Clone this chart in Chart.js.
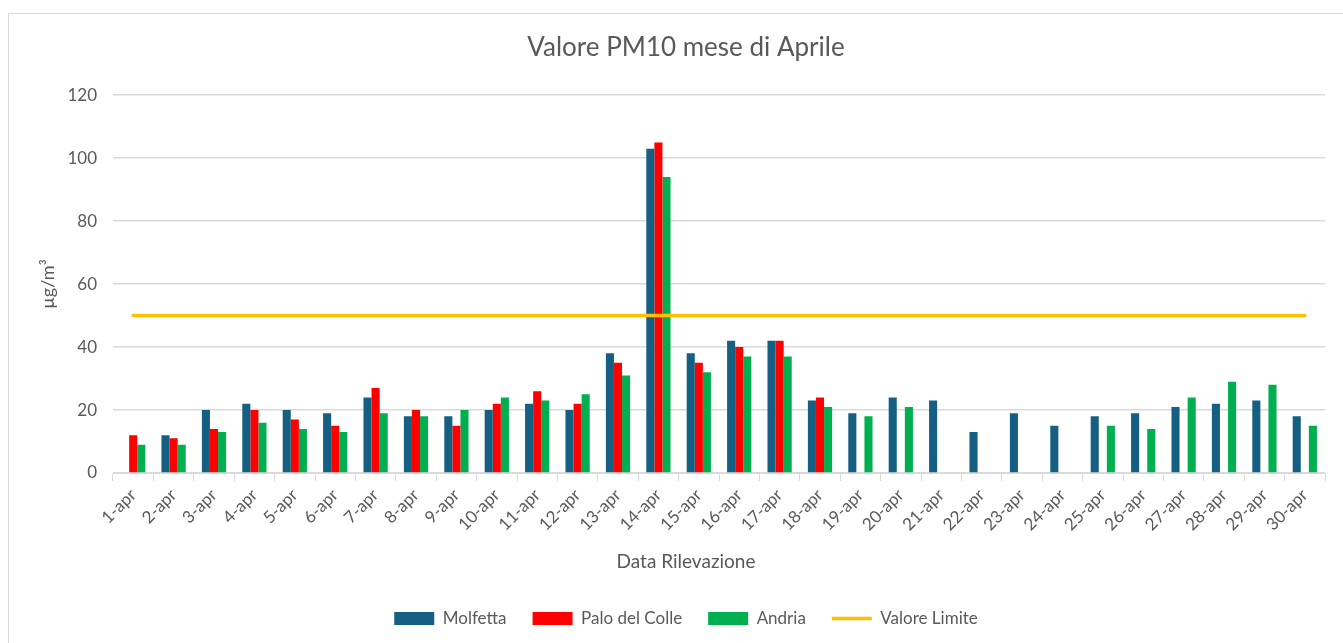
<!DOCTYPE html>
<html>
<head>
<meta charset="utf-8">
<script src="https://cdn.jsdelivr.net/npm/chart.js@4.4.1/dist/chart.umd.min.js"></script>
<style>
  html, body { margin: 0; padding: 0; background: #ffffff; }
  #wrap { position: relative; width: 1343px; height: 643px; overflow: hidden; }
  #frame { position: absolute; left: 8px; top: 13px; width: 1400px; height: 700px; border: 1px solid #d9d9d9; box-sizing: border-box; }
  canvas { position: absolute; left: 0; top: 0; }
</style>
</head>
<body>
<div id="wrap">
  <div id="frame"></div>
  <canvas id="c" width="1343" height="643"></canvas>
</div>
<script>
const categories = ["1-apr","2-apr","3-apr","4-apr","5-apr","6-apr","7-apr","8-apr","9-apr","10-apr",
  "11-apr","12-apr","13-apr","14-apr","15-apr","16-apr","17-apr","18-apr","19-apr","20-apr",
  "21-apr","22-apr","23-apr","24-apr","25-apr","26-apr","27-apr","28-apr","29-apr","30-apr"];
const molfetta = [null,12,20,22,20,19,24,18,18,20,22,20,38,103,38,42,42,23,19,24,23,13,19,15,18,19,21,22,23,18];
const paloDelColle = [12,11,14,20,17,15,27,20,15,22,26,22,35,105,35,40,42,24,null,null,null,null,null,null,null,null,null,null,null,null];
const andria = [9,9,13,16,14,13,19,18,20,24,23,25,31,94,32,37,37,21,18,21,null,null,null,null,15,14,24,29,28,15];
const valoreLimite = [50,50,50,50,50,50,50,50,50,50,50,50,50,50,50,50,50,50,50,50,50,50,50,50,50,50,50,50,50,50];
const yTicks = [0,20,40,60,80,100,120];
const xTitle = "Data Rilevazione";

const FONT = "Lato, 'Open Sans', sans-serif";
const TXT = "#595959";
const GRID = "#d9d9d9";

const xTitlePlugin = {
  id: "xTitle",
  afterDraw(chart) {
    const ctx = chart.ctx;
    ctx.save();
    ctx.fillStyle = TXT;
    ctx.font = "19px " + FONT;
    ctx.textAlign = "center";
    ctx.textBaseline = "middle";
    ctx.fillText(xTitle, (chart.chartArea.right + 47) / 2, 562);
    ctx.restore();
  }
};

new Chart(document.getElementById("c"), {
  type: "bar",
  data: {
    labels: categories,
    datasets: [
      { label: "Molfetta", data: molfetta, backgroundColor: "#156082", pointStyle: "rect", order: 1 },
      { label: "Palo del Colle", data: paloDelColle, backgroundColor: "#FF0000", pointStyle: "rect", order: 1 },
      { label: "Andria", data: andria, backgroundColor: "#00B050", pointStyle: "rect", order: 1 },
      { label: "Valore Limite", type: "line", data: valoreLimite, borderColor: "#FFC000", backgroundColor: "#FFC000",
        borderWidth: 3.5, pointRadius: 0, pointStyle: "line", order: 0, borderCapStyle: "round" }
    ]
  },
  plugins: [xTitlePlugin],
  options: {
    responsive: false,
    animation: false,
    devicePixelRatio: 1,
    layout: { padding: { left: 47, right: 18, top: 20, bottom: 6 } },
    datasets: { bar: { categoryPercentage: 0.6, barPercentage: 1.0, borderWidth: 0 } },
    plugins: {
      tooltip: { enabled: false },
      title: {
        display: true,
        text: "Valore PM10 mese di Aprile",
        color: TXT,
        font: { family: FONT, size: 26, weight: "normal" },
        padding: { top: 12, bottom: 32 }
      },
      legend: {
        position: "bottom",
        labels: {
          usePointStyle: true,
          pointStyleWidth: 40,
          boxHeight: 13,
          boxWidth: 40,
          color: TXT,
          font: { family: FONT, size: 17 },
          padding: 26,
          sort: (a, b) => a.datasetIndex - b.datasetIndex
        }
      }
    },
    scales: {
      x: {
        offset: true,
        grid: { display: true, drawOnChartArea: false, drawTicks: true, tickLength: 8, color: GRID, offset: true },
        border: { display: true, color: GRID },
        ticks: { color: TXT, font: { family: FONT, size: 17 }, minRotation: 45, maxRotation: 45, autoSkip: false, padding: 4 },
        title: { display: false },
        afterFit: (s) => { s.height = 111; }
      },
      y: {
        min: 0, max: 120,
        afterBuildTicks: (s) => { s.ticks = yTicks.map(v => ({ value: v })); },
        grid: { color: GRID, drawTicks: false, lineWidth: 1.5 },
        border: { display: false },
        ticks: { color: TXT, font: { family: FONT, size: 17 }, padding: 16 },
        title: { display: true, text: "µg/m³", color: TXT, font: { family: FONT, size: 18 }, padding: { top: -10, bottom: 0 } },
        afterFit: (s) => { s.width = 66; }
      }
    }
  }
});
</script>
</body>
</html>
